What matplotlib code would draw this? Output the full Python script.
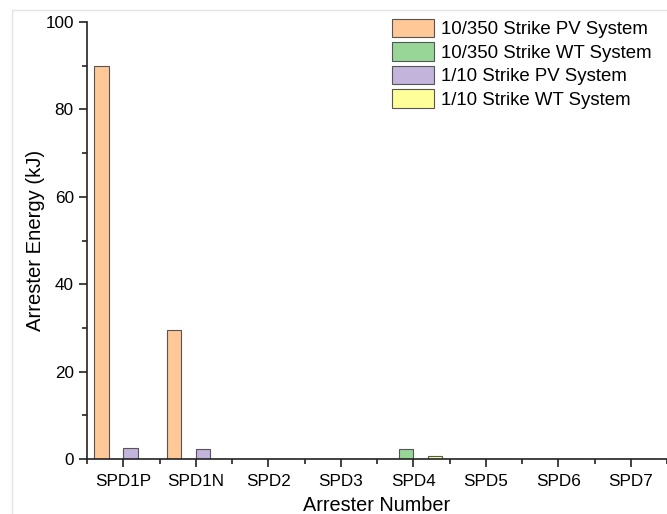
import matplotlib
matplotlib.use("Agg")
import matplotlib.pyplot as plt
import numpy as np
from matplotlib.patches import Rectangle
from matplotlib.ticker import MultipleLocator, FixedLocator

plt.rcParams['font.family'] = ['Liberation Sans', 'DejaVu Sans']

categories = ["SPD1P", "SPD1N", "SPD2", "SPD3", "SPD4", "SPD5", "SPD6", "SPD7"]
pv_10_350 = [90.0, 29.5, 0, 0, 0, 0, 0, 0]
wt_10_350 = [0, 0, 0, 0, 2.3, 0, 0, 0]
pv_1_10 = [2.6, 2.4, 0, 0, 0, 0, 0, 0]
wt_1_10 = [0, 0, 0, 0, 0.6, 0, 0, 0]

series = [
    ("10/350 Strike PV System", pv_10_350, "#FFC896"),
    ("10/350 Strike WT System", wt_10_350, "#98D698"),
    ("1/10 Strike PV System", pv_1_10, "#C2B4DA"),
    ("1/10 Strike WT System", wt_1_10, "#FFFF99"),
]

fig = plt.figure(figsize=(6.67, 5.14), dpi=100)
# light outer frame
fig.patches.append(Rectangle((12 / 667, -0.1), 1.2, (514 - 10) / 514 + 0.1,
                             transform=fig.transFigure, fill=False,
                             edgecolor="#e4e4e4", linewidth=1.0))

ax = fig.add_axes([87 / 667, 1 - 459 / 514, 580 / 667, (459 - 22) / 514])

x = np.arange(len(categories))
width = 0.2
offsets = [-0.3, -0.1, 0.1, 0.3]
for (label, vals, color), off in zip(series, offsets):
    ax.bar(x + off, vals, width, label=label, color=color,
           edgecolor="#555555", linewidth=0.8)

ax.set_xlim(-0.5, 7.5)
ax.set_ylim(0, 100)
ax.set_xticks(x)
ax.set_xticklabels(categories)
ax.xaxis.set_minor_locator(FixedLocator(np.arange(-0.5, 8.0, 1.0)))
ax.yaxis.set_major_locator(MultipleLocator(20))
ax.yaxis.set_minor_locator(MultipleLocator(10))
ax.tick_params(axis="both", which="major", direction="out", length=6,
               width=1.2, labelsize=12.3, color="#222222")
ax.tick_params(axis="both", which="minor", direction="out", length=3.5,
               width=1.2, color="#222222")
ax.tick_params(axis="x", pad=4.5)

for side in ("top", "right"):
    ax.spines[side].set_visible(False)
for side in ("left", "bottom"):
    ax.spines[side].set_linewidth(1.2)
    ax.spines[side].set_color("#222222")

ax.set_ylabel("Arrester Energy (kJ)", fontsize=14.6, labelpad=0)
ax.set_xlabel("Arrester Number", fontsize=14.3, labelpad=5)

ax.legend(loc="upper left", bbox_to_anchor=(392 / 667, 1 - 19 / 514),
          bbox_transform=fig.transFigure, frameon=False, fontsize=13.4,
          handlelength=2.25, handleheight=1.12, labelspacing=0.22,
          handletextpad=0.38, borderpad=0, borderaxespad=0)

fig.savefig("out.png", dpi=100)
